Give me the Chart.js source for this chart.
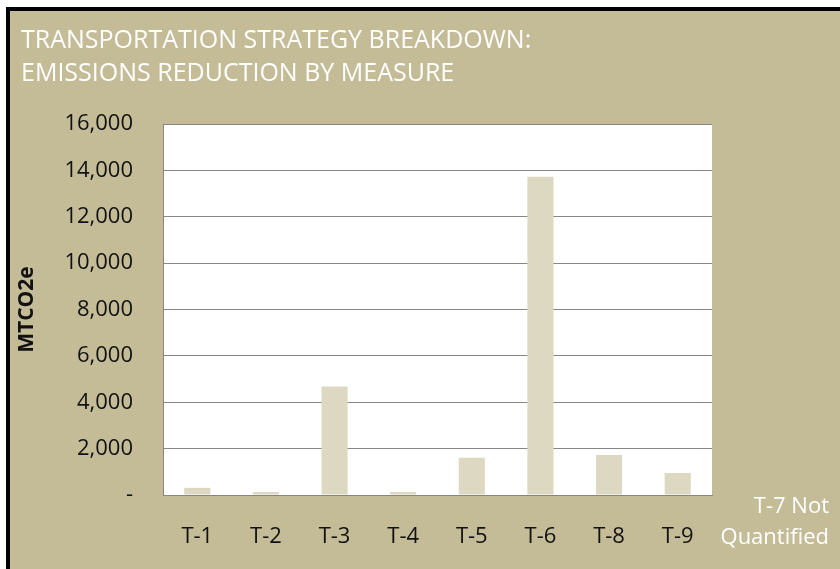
<!DOCTYPE html>
<html>
<head>
<meta charset="utf-8">
<script src="https://cdn.jsdelivr.net/npm/chart.js@4/dist/chart.umd.min.js"></script>
<style>
    body{
        margin:0;
        background:#fff;
        width:840px;
        height:569px;
        overflow:hidden;
        position:relative;
    }
    #frame{
        position:absolute;
        left:6px;
        top:7px;
        right:0;
        bottom:0;
        border-left:4px solid #000;
        border-top:4px solid #000;
        background:#c4bb97;
    }
    #chart{
        position:absolute;
        left:0;
        top:0;
    }
</style>
</head>
<body>

<div id="frame"></div>
<canvas id="chart" width="840" height="569"></canvas>

<script>

/* DATA */

const titleLines = ["TRANSPORTATION STRATEGY BREAKDOWN:", "EMISSIONS REDUCTION BY MEASURE"];

const measures = ["T-1","T-2","T-3","T-4","T-5","T-6","T-8","T-9"];

const reductions = [310, 130, 4680, 130, 1610, 13730, 1730, 950];

const yTicks = [0, 2000, 4000, 6000, 8000, 10000, 12000, 14000, 16000];

const noteLines = ["T-7 Not", "Quantified"];

Chart.defaults.font.family = "'Open Sans', sans-serif";

/* white plot area */
const plotBackground = {
    id:"plotBackground",
    beforeDraw(chart){
        const {ctx, chartArea} = chart;
        ctx.save();
        ctx.fillStyle = "#ffffff";
        ctx.fillRect(chartArea.left, chartArea.top, chartArea.right - chartArea.left, chartArea.bottom - chartArea.top);
        ctx.restore();
    }
};

/* "T-7 Not Quantified" note next to the x axis */
const sideNote = {
    id:"sideNote",
    afterDraw(chart){
        const ctx = chart.ctx;
        const x = chart.chartArea.right + 117;
        const y = chart.chartArea.bottom + 12;
        ctx.save();
        ctx.fillStyle = "#ffffff";
        ctx.font = "22px 'Open Sans', sans-serif";
        ctx.textAlign = "right";
        ctx.textBaseline = "middle";
        noteLines.forEach((line, i) => {
            ctx.fillText(line, x, y + i * 31);
        });
        ctx.restore();
    }
};

new Chart(document.getElementById("chart"), {
    type:"bar",
    data:{
        labels:measures,
        datasets:[{
            label:"MTCO2e",
            data:reductions,
            backgroundColor:"#ddd8c2",
            categoryPercentage:1,
            barPercentage:0.38
        }]
    },
    options:{
        responsive:false,
        animation:false,
        layout:{
            padding:{left:21, right:128, top:0, bottom:0}
        },
        plugins:{
            legend:{display:false},
            title:{
                display:true,
                text:titleLines,
                align:"start",
                color:"#ffffff",
                font:{size:25, weight:"normal", lineHeight:"33px"},
                padding:{top:24, bottom:34}
            }
        },
        scales:{
            x:{
                grid:{display:false, drawTicks:false},
                border:{color:"#868686", width:1},
                ticks:{
                    color:"#111111",
                    font:{size:22},
                    padding:29
                },
                afterFit(scale){
                    scale.height = 74;
                }
            },
            y:{
                min:0,
                max:16000,
                afterBuildTicks(scale){
                    scale.ticks = yTicks.map(v => ({value:v}));
                },
                grid:{color:"#868686", lineWidth:1, drawTicks:false},
                border:{color:"#868686", width:1},
                ticks:{
                    color:"#111111",
                    font:{size:22},
                    padding:30,
                    callback:(value) => value === 0 ? "-" : value.toLocaleString("en-US")
                },
                title:{
                    display:true,
                    text:"MTCO2e",
                    color:"#111111",
                    font:{size:21, weight:"bold", lineHeight:1},
                    padding:{top:-4, bottom:0}
                },
                afterFit(scale){
                    scale.width = 142;
                }
            }
        }
    },
    plugins:[plotBackground, sideNote]
});

</script>
</body>
</html>
